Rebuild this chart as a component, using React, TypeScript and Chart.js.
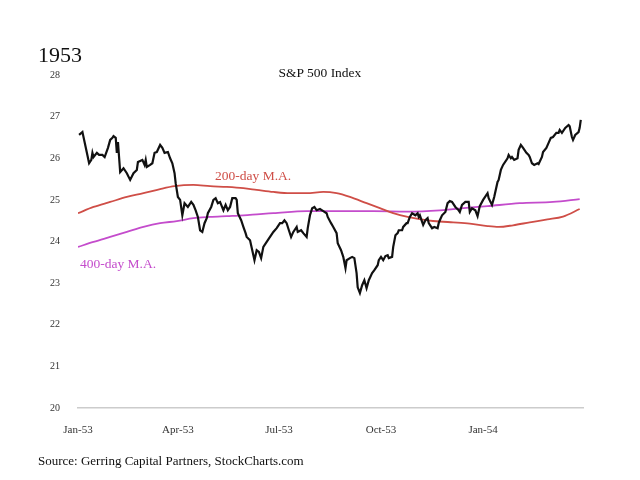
import React, { useEffect, useRef } from "react";
import { Chart, registerables } from "chart.js";

Chart.register(...registerables);

// ---- Data (days since Jan 1, 1953) ----
const xTickDays = [0, 90, 181, 273, 365];
const xTickLabels = ["Jan-53", "Apr-53", "Jul-53", "Oct-53", "Jan-54"];
const yMin = 20;
const yMax = 28;

const spxDays = [
  1, 4, 8, 10, 12, 13, 14, 17, 19, 22, 24, 27, 29, 31, 32, 34, 35, 36, 38, 41,
  44, 47, 50, 53, 54, 58, 60, 61, 62, 65, 67, 69, 71, 74, 76, 78, 81, 83, 85, 87,
  88, 90, 92, 94, 96, 99, 102, 104, 106, 108, 110, 112, 114, 116, 117, 120, 122, 124, 126, 128,
  131, 133, 135, 137, 139, 142, 143, 144, 147, 149, 151, 152, 155, 157, 159, 161, 163, 165, 167, 170,
  173, 176, 179, 182, 184, 186, 188, 190, 192, 194, 197, 198, 201, 203, 206, 207, 209, 211, 213, 215,
  218, 221, 224, 225, 228, 230, 233, 234, 237, 239, 241, 242, 245, 247, 249, 251, 252, 254, 256, 258,
  260, 262, 265, 267, 270, 271, 273, 275, 277, 279, 280, 283, 284, 286, 288, 289, 292, 293, 296, 297,
  299, 301, 304, 306, 307, 308, 311, 313, 315, 316, 319, 321, 324, 325, 326, 328, 331, 333, 335, 337,
  340, 343, 344, 346, 349, 352, 353, 355, 358, 360, 362, 365, 369, 370, 373, 375, 378, 379, 381, 383,
  387, 388, 390, 391, 393, 396, 397, 399, 401, 404, 406, 407, 409, 411, 414, 415, 418, 419, 422, 424,
  426, 428, 431, 433, 434, 436, 439, 442, 443, 445, 446, 448, 451, 452, 453,
];
const spxValues = [
  26.56, 26.63, 26.13, 25.88, 25.96, 26.13, 26.03, 26.13, 26.08, 26.08, 26.03, 26.25, 26.44, 26.49, 26.53, 26.49, 26.13, 26.39, 25.67, 25.76,
  25.64, 25.48, 25.64, 25.72, 25.91, 25.96, 25.84, 25.96, 25.79, 25.84, 25.88, 26.13, 26.15, 26.32, 26.25, 26.13, 26.15, 26.0, 25.88, 25.64,
  25.4, 25.07, 25.0, 24.63, 24.92, 24.83, 24.95, 24.88, 24.75, 24.59, 24.27, 24.23, 24.44, 24.56, 24.68, 24.83, 25.0, 25.04, 24.92, 24.95,
  24.75, 24.88, 24.75, 24.83, 25.04, 25.04, 25.0, 24.68, 24.51, 24.35, 24.2, 24.11, 24.03, 23.79, 23.55, 23.79, 23.75, 23.6, 23.87, 23.99,
  24.11, 24.23, 24.32, 24.44, 24.44, 24.51, 24.44, 24.27, 24.11, 24.23, 24.35, 24.23, 24.27, 24.2, 24.11, 24.32, 24.63, 24.8, 24.83, 24.75,
  24.78, 24.73, 24.68, 24.59, 24.44, 24.35, 24.2, 23.96, 23.79, 23.63, 23.36, 23.55, 23.6, 23.63, 23.6, 23.24, 22.9, 22.76, 22.95, 23.07,
  22.88, 23.07, 23.24, 23.31, 23.43, 23.55, 23.63, 23.55, 23.65, 23.67, 23.6, 23.63, 23.87, 24.15, 24.2, 24.27, 24.27, 24.35, 24.44, 24.44,
  24.59, 24.68, 24.63, 24.68, 24.59, 24.63, 24.4, 24.51, 24.56, 24.44, 24.32, 24.35, 24.32, 24.44, 24.51, 24.63, 24.71, 24.92, 24.97, 24.95,
  24.83, 24.75, 24.71, 24.88, 24.95, 24.95, 24.71, 24.8, 24.75, 24.61, 24.85, 25.0, 25.16, 25.04, 24.88, 25.07, 25.43, 25.48, 25.72, 25.84,
  26.0, 26.08, 26.0, 26.03, 25.96, 26.0, 26.2, 26.32, 26.25, 26.13, 26.08, 26.03, 25.88, 25.84, 25.88, 25.86, 26.03, 26.15, 26.25, 26.37,
  26.49, 26.51, 26.61, 26.61, 26.68, 26.61, 26.73, 26.8, 26.77, 26.51, 26.44, 26.56, 26.63, 26.73, 26.92,
];

const ma200Days = [0, 14, 29, 44, 59, 74, 87, 104, 119, 134, 149, 161, 176, 191, 206, 221, 233, 245, 260, 272, 284, 297, 315, 326, 338, 353, 369, 379, 392, 407, 423, 437, 452];
const ma200Values = [24.68, 24.83, 24.95, 25.07, 25.16, 25.26, 25.33, 25.36, 25.33, 25.31, 25.28, 25.24, 25.19, 25.16, 25.16, 25.19, 25.16, 25.07, 24.92, 24.8, 24.68, 24.59, 24.51, 24.48, 24.46, 24.43, 24.37, 24.35, 24.39, 24.46, 24.53, 24.6, 24.78];

const ma400Days = [0, 14, 29, 44, 59, 74, 89, 104, 119, 134, 149, 164, 176, 206, 236, 266, 297, 326, 338, 369, 398, 428, 452];
const ma400Values = [23.87, 23.99, 24.11, 24.23, 24.35, 24.44, 24.49, 24.56, 24.59, 24.61, 24.63, 24.66, 24.68, 24.73, 24.73, 24.73, 24.72, 24.75, 24.78, 24.85, 24.92, 24.95, 25.02];

const maLabelTexts = ["200-day M.A.", "400-day M.A."];
const maLabelDays = [123.5, 1.8];
const maLabelValues = [25.57, 23.44];

const RED = "#cf4e47";
const PURPLE = "#c44ccc";
const FONT = "'Liberation Serif', 'DejaVu Serif', serif";

const toPoints = (xs: number[], ys: number[]) => xs.map((x, i) => ({ x, y: ys[i] }));

const labelPlugin = {
  id: "maLabels",
  afterDatasetsDraw(chart: any) {
    const { ctx, scales } = chart;
    const colors = [RED, PURPLE];
    ctx.save();
    ctx.font = `13.5px ${FONT}`;
    ctx.textAlign = "left";
    ctx.textBaseline = "middle";
    maLabelTexts.forEach((t, i) => {
      ctx.fillStyle = colors[i];
      ctx.fillText(t, scales.x.getPixelForValue(maLabelDays[i]), scales.y.getPixelForValue(maLabelValues[i]));
    });
    ctx.restore();
  },
};

export default function App() {
  const ref = useRef<HTMLCanvasElement | null>(null);

  useEffect(() => {
    if (!ref.current) return;
    const chart = new Chart(ref.current, {
      type: "line",
      data: {
        datasets: [
          {
            label: "S&P 500",
            data: toPoints(spxDays, spxValues),
            borderColor: "#111111",
            borderWidth: 2.2,
            pointRadius: 0,
            tension: 0,
          },
          {
            label: "200-day M.A.",
            data: toPoints(ma200Days, ma200Values),
            borderColor: RED,
            borderWidth: 1.8,
            pointRadius: 0,
            cubicInterpolationMode: "monotone",
          },
          {
            label: "400-day M.A.",
            data: toPoints(ma400Days, ma400Values),
            borderColor: PURPLE,
            borderWidth: 1.8,
            pointRadius: 0,
            cubicInterpolationMode: "monotone",
          },
        ],
      },
      options: {
        animation: false,
        responsive: false,
        devicePixelRatio: 1,
        layout: { padding: { top: 75, right: 57, left: 0, bottom: 0 } },
        plugins: {
          legend: { display: false },
          title: { display: false },
          tooltip: { enabled: false },
        },
        scales: {
          x: {
            type: "linear",
            min: 0,
            max: 455,
            grid: { display: false },
            border: { display: true, color: "#cccccc", width: 1.5 },
            afterBuildTicks: (scale: any) => {
              scale.ticks = xTickDays.map((v) => ({ value: v }));
            },
            afterFit: (scale: any) => {
              scale.height = 72;
            },
            ticks: {
              autoSkip: false,
              maxRotation: 0,
              padding: 8,
              color: "#333333",
              font: { family: FONT, size: 11 },
              callback: (v: any) => {
                const i = xTickDays.indexOf(Number(v));
                return i >= 0 ? xTickLabels[i] : "";
              },
            },
          },
          y: {
            min: yMin,
            max: yMax,
            grid: { display: false },
            border: { display: false },
            afterFit: (scale: any) => {
              scale.width = 78;
            },
            ticks: {
              stepSize: 1,
              padding: 10,
              color: "#333333",
              font: { family: FONT, size: 10 },
            },
          },
        },
      },
      plugins: [labelPlugin],
    });
    return () => chart.destroy();
  }, []);

  return (
    <div style={{ position: "absolute", left: 0, top: 0, width: 640, height: 480, background: "#ffffff" }}>
      <canvas ref={ref} width={640} height={480} style={{ position: "absolute", left: 0, top: 0 }} />
      <div style={{ position: "absolute", left: 38, top: 44, fontFamily: FONT, fontSize: 22, lineHeight: 1, color: "#111" }}>
        1953
      </div>
      <div style={{ position: "absolute", left: 0, width: 640, textAlign: "center", top: 66, fontFamily: FONT, fontSize: 13.5, lineHeight: 1, color: "#111" }}>
        S&amp;P 500 Index
      </div>
      <div style={{ position: "absolute", left: 38, top: 454, fontFamily: FONT, fontSize: 13, lineHeight: 1, color: "#111" }}>
        Source: Gerring Capital Partners, StockCharts.com
      </div>
    </div>
  );
}
